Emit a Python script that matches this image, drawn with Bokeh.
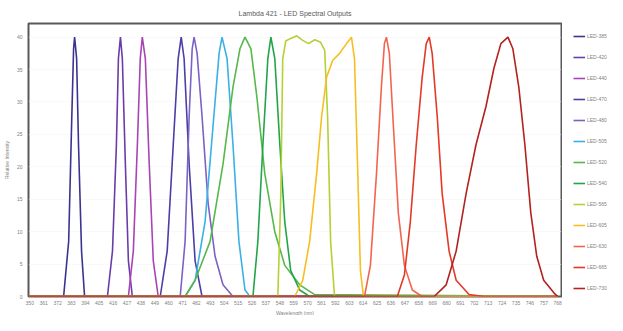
from bokeh.plotting import figure
from bokeh.models import Range1d, Legend, LegendItem, FixedTicker, Title
from bokeh.layouts import row
from bokeh.embed import file_html
from bokeh.resources import INLINE

TITLE = "Lambda 421 - LED Spectral Outputs"
X_TITLE = "Wavelength (nm)"
Y_TITLE = "Relative Intensity"
WAVE_TICKS = list(range(350, 769, 11))
Y_TICKS = [0, 5, 10, 15, 20, 25, 30, 35, 40]

LED_NAMES = ["LED-385", "LED-420", "LED-440", "LED-470", "LED-480", "LED-505",
             "LED-520", "LED-540", "LED-565", "LED-605", "LED-630", "LED-665", "LED-730"]
LED_COLORS = ["#3A3390", "#6A3CA8", "#A844B4", "#4A3FA6", "#7B62C4", "#3AB0E6",
              "#55B84A", "#22A548", "#B5D034", "#F7BE22", "#F26450", "#E23A26", "#B3221E"]

w1 = [376.8, 380.8, 383.1, 384.7, 385.5, 387.1, 388.6, 391.0, 393.4]
i1 = [0, 8.5, 26.3, 38.2, 40.0, 36.7, 23.4, 7.0, 0]
w2 = [411.5, 415.5, 418.6, 420.2, 421.8, 423.3, 425.7, 428.1, 431.2]
i2 = [0, 7.0, 23.4, 36.7, 40.0, 36.7, 20.4, 5.5, 0]
w3 = [428.1, 432.0, 435.2, 437.5, 439.1, 441.5, 444.6, 447.8, 451.7]
i3 = [0, 7.0, 23.4, 36.7, 40.0, 36.7, 20.4, 5.5, 0]
w4 = [453.3, 458.8, 463.6, 467.5, 469.9, 472.2, 476.2, 480.9, 486.4]
i4 = [0, 7.0, 23.4, 36.7, 40.0, 36.7, 20.4, 5.5, 0]
w5 = [469.1, 473.0, 476.2, 478.6, 480.1, 482.5, 486.4, 491.2, 496.7, 503.0, 510.9]
i5 = [0, 8.5, 27.8, 38.2, 40.0, 37.5, 27.8, 14.4, 6.2, 1.8, 0]
w6 = [473.0, 480.9, 488.8, 495.1, 499.9, 502.2, 506.2, 510.9, 515.6, 520.4, 524.3]
i6 = [0, 2.5, 11.5, 26.3, 37.5, 40.0, 36.7, 23.4, 8.5, 1.0, 0]
w7 = [473.0, 480.9, 492.8, 503.0, 510.9, 516.4, 520.4, 525.1, 529.8, 536.1, 544.0, 551.9, 563.7, 575.6]
i7 = [0, 2.5, 8.5, 20.4, 32.3, 38.2, 40.0, 38.2, 30.8, 18.9, 10.0, 4.8, 1.8, 0.3]
w8 = [526.7, 530.6, 534.6, 538.5, 540.9, 544.0, 548.0, 551.9, 556.6, 563.7, 571.6]
i8 = [0, 8.5, 23.4, 36.7, 40.0, 36.7, 23.4, 11.5, 4.0, 1.0, 0]
w9 = [546.4, 548.8, 550.3, 552.7, 556.6, 561.4, 566.1, 570.8, 575.6, 580.3, 583.5, 585.8, 588.2, 591.3]
i9 = [0, 15.9, 36.7, 39.4, 39.8, 40.2, 39.5, 39.0, 39.6, 39.2, 38.0, 27.8, 8.5, 0]
w10 = [559.8, 566.1, 571.6, 577.1, 581.1, 585.0, 589.8, 595.3, 600.8, 604.7, 607.1, 609.5, 611.8, 614.2]
i10 = [0, 2.5, 8.5, 18.9, 27.8, 33.8, 36.4, 37.5, 39.0, 40.0, 36.7, 20.4, 4.0, 0]
w11 = [615.0, 619.7, 624.5, 628.4, 630.8, 632.4, 634.7, 637.9, 641.8, 646.6, 652.9, 660.7]
i11 = [0, 4.8, 18.9, 32.3, 39.0, 40.0, 37.5, 26.3, 12.9, 4.8, 1.0, 0]
w12 = [641.0, 646.6, 651.3, 656.0, 660.7, 663.9, 666.3, 668.6, 672.6, 676.5, 682.0, 687.6, 697.8, 709.6]
i12 = [0, 3.3, 11.5, 23.4, 33.8, 39.0, 40.0, 37.5, 27.8, 15.9, 7.0, 2.5, 0.3, 0]
w13 = [670.2, 679.7, 687.6, 695.5, 703.3, 711.2, 717.5, 723.0, 728.6, 732.5, 737.2, 742.0, 746.7, 751.4, 756.9, 764.8, 768.0]
i13 = [0, 1.8, 7.0, 15.9, 23.4, 29.3, 35.2, 39.0, 40.0, 38.2, 32.3, 23.4, 12.9, 6.2, 2.5, 0.6, 0]

WAVES = [w1, w2, w3, w4, w5, w6, w7, w8, w9, w10, w11, w12, w13]
INTENS = [i1, i2, i3, i4, i5, i6, i7, i8, i9, i10, i11, i12, i13]

FONT = "Liberation Sans"
GRAY = "#7F7F7F"

p = figure(width=562, height=315, output_backend="svg", toolbar_location=None,
           x_range=Range1d(349, 771), y_range=Range1d(0, 42.1),
           min_border_left=28, min_border_right=1, min_border_bottom=0, min_border_top=1)
p.title.text = TITLE
p.title.align = "center"
p.title.text_font = FONT
p.title.text_font_size = "7px"
p.title.text_font_style = "normal"
p.title.text_color = "#595959"
p.title.offset = 0
p.title.standoff = 14

p.outline_line_color = "#595959"
p.outline_line_width = 2
p.background_fill_color = "white"
p.xgrid.grid_line_color = None
p.ygrid.grid_line_color = "#F2F2F2"
p.ygrid.grid_line_width = 0.5

for ax in (p.xaxis[0], p.yaxis[0]):
    ax.axis_line_color = None
    ax.major_tick_line_color = None
    ax.minor_tick_line_color = None
    ax.major_tick_out = 0
    ax.major_tick_in = 0
    ax.minor_tick_out = 0
    ax.minor_tick_in = 0
    ax.major_label_text_font = FONT
    ax.major_label_text_font_size = "5px"
    ax.major_label_text_color = GRAY
    ax.axis_label_text_font = FONT
    ax.axis_label_text_font_size = "5px"
    ax.axis_label_text_color = GRAY
    ax.axis_label_text_font_style = "normal"

p.xaxis.ticker = FixedTicker(ticks=WAVE_TICKS)
p.xaxis.major_label_standoff = 4
p.yaxis.ticker = FixedTicker(ticks=Y_TICKS)
p.yaxis.major_label_standoff = 6
p.yaxis.axis_label = Y_TITLE
p.yaxis.axis_label_standoff = 4

xt = Title(text=X_TITLE, align="center", text_font=FONT, text_font_size="5px",
           text_font_style="normal", text_color=GRAY, standoff=0, offset=0)
p.add_layout(xt, "below")

# legend panel: a second figure whose ranges exclude the data, so only the legend shows
q = figure(width=45, height=315, output_backend="svg", toolbar_location=None,
           x_range=Range1d(0, 1), y_range=Range1d(0, 1),
           min_border_left=0, min_border_right=0, min_border_top=0, min_border_bottom=0)
q.axis.visible = False
q.grid.visible = False
q.outline_line_color = None

items = []
for name, col, w, it in zip(LED_NAMES, LED_COLORS, WAVES, INTENS):
    xs = [WAVE_TICKS[0]] + w + [WAVE_TICKS[-1]]
    ys = [0] + it + [0]
    p.line(xs, ys, line_color=col, line_width=1.6)
    r = q.line(xs, ys, line_color=col, line_width=1.6)
    items.append(LegendItem(label=name, renderers=[r]))

legend = Legend(items=items, location=(11, 2), orientation="vertical",
                label_text_font=FONT, label_text_font_size="5px", label_text_color=GRAY,
                glyph_width=12, glyph_height=12, label_height=12, label_standoff=2,
                spacing=9, padding=0, margin=0, border_line_color=None,
                background_fill_alpha=0)
q.add_layout(legend, "center")

layout = row(p, q, spacing=0)
open("out.html", "w").write(file_html(layout, INLINE))
